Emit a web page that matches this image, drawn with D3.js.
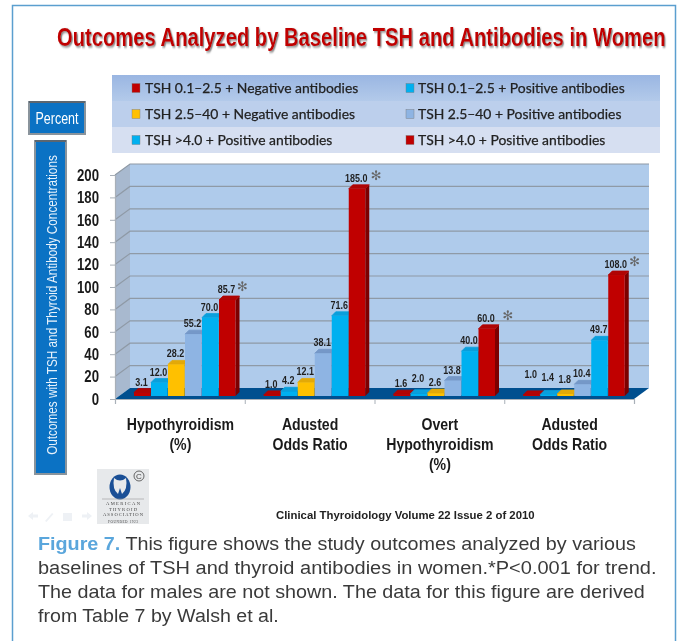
<!DOCTYPE html>
<html>
<head lang="en">
	<meta charset="UTF-8">
	<title>Outcomes by Baseline TSH and Antibodies</title>
	<style>
	html, body { margin: 0; padding: 0; background: #fff; }
	svg { display: block; filter: blur(0.35px); }
	text { font-family: "Liberation Sans", sans-serif; }
	</style>
	<script src="https://cdn.jsdelivr.net/npm/d3@7"></script>
</head>
<body>
<script>
	var categories = [["Hypothyroidism", "(%)"], ["Adusted", "Odds Ratio"], ["Overt", "Hypothyroidism", "(%)"], ["Adusted", "Odds Ratio"]];
	var seriesNames = [
		"TSH 0.1–2.5 + Negative antibodies",
		"TSH 0.1–2.5 + Positive antibodies",
		"TSH 2.5–40 + Negative antibodies",
		"TSH 2.5–40 + Positive antibodies",
		"TSH >4.0 + Positive antibodies",
		"TSH >4.0 + Positive antibodies"
	];
	var neg01 = [3.1, 1.0, 1.6, 1.0];
	var pos01 = [12.0, 4.2, 2.0, 1.4];
	var neg25 = [28.2, 12.1, 2.6, 1.8];
	var pos25 = [55.2, 38.1, 13.8, 10.4];
	var pos40a = [70.0, 71.6, 40.0, 49.7];
	var pos40b = [85.7, 185.0, 60.0, 108.0];
	var seriesValues = [neg01, pos01, neg25, pos25, pos40a, pos40b];
	var yTicks = [0, 20, 40, 60, 80, 100, 120, 140, 160, 180, 200];

	// front, top, side
	var barColors = [
		["#c00000", "#b00404", "#7c0000"],
		["#00b0f0", "#0a9fdc", "#0086b8"],
		["#ffc000", "#e3a908", "#c79500"],
		["#8eb4e3", "#7598c8", "#7090bd"],
		["#00b0f0", "#0a9fdc", "#0086b8"],
		["#c00000", "#b00404", "#7c0000"]
	];

	var width = 677, height = 641;
	var depth = [15, -11]; // floor depth of the 3d box
	var barDepth = 4;

	var svg = d3.select("body").append("svg")
		.attr("width", width)
		.attr("height", height);

	var defs = svg.append("defs");
	var sh = defs.append("filter").attr("id", "shadow").attr("x", "-5%").attr("y", "-20%").attr("width", "110%").attr("height", "150%");
	sh.append("feDropShadow").attr("dx", 1.5).attr("dy", 1.5).attr("stdDeviation", 1).attr("flood-color", "#888");
	var lg = defs.append("linearGradient").attr("id", "row0").attr("x1", 0).attr("x2", 0).attr("y1", 0).attr("y2", 1);
	lg.append("stop").attr("offset", "0%").attr("stop-color", "#9ab6e2");
	lg.append("stop").attr("offset", "100%").attr("stop-color", "#b3caea");

	// no narrow font is installed, so squeeze the text to the width it has in the picture
	function fitText(sel, x, y, w, rotate) {
		var k = w / sel.node().getComputedTextLength();
		sel.attr("transform", "translate(" + x + "," + y + ")" + (rotate ? "rotate(" + rotate + ")" : "") + "scale(" + k + ",1)");
	}

	// frame, open at the bottom
	svg.append("path")
		.attr("d", "M12.5,641V5.5H675.5V641")
		.attr("fill", "none")
		.attr("stroke", "#5b9fcf")
		.attr("stroke-width", 1.5);

	// title
	svg.append("text")
		.attr("font-size", 26)
		.attr("font-weight", "bold")
		.attr("fill", "#c00000")
		.attr("filter", "url(#shadow)")
		.text("Outcomes Analyzed by Baseline TSH and Antibodies in Women")
		.call(fitText, 57, 46, 609);

	// legend
	var legendRows = d3.scaleBand().domain([0, 1, 2]).range([75, 153]);
	var legendFills = ["url(#row0)", "#bccfec", "#d6dff1"];
	svg.selectAll("rect.legrow").data([0, 1, 2]).enter().append("rect")
		.attr("class", "legrow")
		.attr("x", 112).attr("width", 548)
		.attr("y", function(d){ return legendRows(d); })
		.attr("height", legendRows.bandwidth())
		.attr("fill", function(d){ return legendFills[d]; });

	var legend = svg.selectAll("g.leg").data(seriesNames).enter().append("g")
		.attr("class", "leg")
		.attr("transform", function(d, i){
			var col = i % 2, row = Math.floor(i / 2);
			return "translate(" + (col ? 406 : 132) + "," + (legendRows(row) + legendRows.bandwidth() / 2) + ")";
		});
	legend.append("rect")
		.attr("x", 0).attr("y", -4.5).attr("width", 8).attr("height", 9)
		.attr("fill", function(d, i){ return barColors[i][0]; })
		.attr("stroke", "#777").attr("stroke-width", 0.4);
	legend.append("text")
		.attr("x", function(d, i){ return i % 2 ? 12 : 13; })
		.attr("y", 4.5)
		.style("font-family", "Lato, 'Open Sans', sans-serif")
		.attr("font-size", 13.9)
		.attr("fill", "#222")
		.attr("stroke", "#222")
		.attr("stroke-width", 0.25)
		.text(function(d){ return d; });

	// side boxes
	function blueBox(x, y, w, h) {
		svg.append("rect").attr("x", x).attr("y", y).attr("width", w).attr("height", h)
			.attr("fill", "#0b72c4").attr("stroke", "#8a949c").attr("stroke-width", 2);
		svg.append("rect").attr("x", x).attr("y", y - 1).attr("width", w).attr("height", 2).attr("fill", "#5c6670");
	}
	blueBox(29, 102, 56, 32);
	svg.append("text")
		.attr("text-anchor", "middle")
		.attr("font-size", 16).attr("fill", "#fff")
		.text("Percent")
		.call(fitText, 57, 124, 43);
	blueBox(35, 141, 31, 333);
	svg.append("text")
		.attr("text-anchor", "middle")
		.attr("font-size", 14).attr("fill", "#e8f2fb")
		.text("Outcomes with TSH and Thyroid Antibody Concentrations")
		.call(fitText, 57, 305, 300, -90);

	// scales
	var x0 = d3.scaleBand().domain(d3.range(categories.length)).range([115, 634]);
	var x1 = d3.scaleBand().domain(d3.range(seriesValues.length)).range([19, 121]);
	var yFront = d3.scaleLinear().domain([0, 200]).range([399, 175]);
	var yBar = d3.scaleLinear().domain([0, 200]).range([396, 172]);

	// walls
	var plot = svg.append("g");
	plot.append("rect")
		.attr("x", x0.range()[0] + depth[0])
		.attr("y", yFront(200) + depth[1])
		.attr("width", x0.range()[1] - x0.range()[0])
		.attr("height", yFront(0) - yFront(200))
		.attr("fill", "#afcbeb");
	plot.append("path")
		.attr("d", d3.line()([
			[x0.range()[0], yFront(200)],
			[x0.range()[0] + depth[0], yFront(200) + depth[1]],
			[x0.range()[0] + depth[0], yFront(0) + depth[1]],
			[x0.range()[0], yFront(0)]
		]) + "Z")
		.attr("fill", "#a8b9cf");
	// gridlines run along the side wall and across the back
	plot.selectAll("path.grid").data(yTicks.slice(1)).enter().append("path")
		.attr("class", "grid")
		.attr("d", function(d){
			return d3.line()([
				[x0.range()[0], yFront(d)],
				[x0.range()[0] + depth[0], yFront(d) + depth[1]],
				[x0.range()[1] + depth[0], yFront(d) + depth[1]]
			]);
		})
		.attr("fill", "none")
		.attr("stroke", "#8f9aa6")
		.attr("stroke-width", 1.2);
	// floor
	plot.append("path")
		.attr("d", d3.line()([
			[x0.range()[0], yFront(0)],
			[x0.range()[0] + depth[0], yFront(0) + depth[1]],
			[x0.range()[1] + depth[0], yFront(0) + depth[1]],
			[x0.range()[1], yFront(0)]
		]) + "Z")
		.attr("fill", "#004f8f");

	// axes
	var yAxis = d3.axisLeft(yFront).tickValues(yTicks).tickSize(5);
	var yg = plot.append("g").attr("transform", "translate(" + x0.range()[0] + ",0)").call(yAxis);
	yg.select(".domain").attr("stroke", "#a9b0b8").attr("stroke-width", 1.2);
	yg.selectAll(".tick line").attr("stroke", "#a9b0b8");
	yg.selectAll(".tick text")
		.attr("x", 0)
		.attr("transform", "translate(-16,0)scale(0.8,1)")
		.attr("font-size", 16.5)
		.attr("font-weight", "bold")
		.attr("fill", "#1a1a1a");

	var xAxis = d3.axisBottom(d3.scaleLinear().domain([0, categories.length]).range(x0.range()))
		.ticks(categories.length).tickSize(5).tickFormat("");
	var xg = plot.append("g").attr("transform", "translate(0," + yFront(0) + ")").call(xAxis);
	xg.select(".domain").attr("stroke", "#a9b0b8").attr("stroke-width", 1.2);
	xg.selectAll(".tick line").attr("stroke", "#a9b0b8");

	// bars
	var bw = x1.bandwidth();
	var bars = plot.append("g");
	var flat = [];
	seriesValues.forEach(function(vals, s){
		vals.forEach(function(v, c){ flat.push({s: s, c: c, v: v}); });
	});
	var barG = bars.selectAll("g").data(flat).enter().append("g")
		.attr("transform", function(d){ return "translate(" + (x0(d.c) + x1(d.s)) + ",0)"; });
	barG.append("path") // side
		.attr("d", function(d){
			return d3.line()([[bw - 0.5, yBar(d.v)], [bw - 0.5 + barDepth, yBar(d.v) - barDepth], [bw - 0.5 + barDepth, yBar(0) - barDepth], [bw - 0.5, yBar(0)]]) + "Z";
		})
		.attr("fill", function(d){ return barColors[d.s][2]; });
	barG.append("path") // top
		.attr("d", function(d){
			return d3.line()([[0, yBar(d.v)], [barDepth, yBar(d.v) - barDepth], [bw - 0.5 + barDepth, yBar(d.v) - barDepth], [bw - 0.5, yBar(d.v)]]) + "Z";
		})
		.attr("fill", function(d){ return barColors[d.s][1]; })
		.attr("stroke", function(d){ return barColors[d.s][1]; })
		.attr("stroke-width", 0.8)
		.attr("stroke-linejoin", "round");
	barG.append("rect")
		.attr("x", 0).attr("width", bw - 0.5)
		.attr("y", function(d){ return yBar(d.v); })
		.attr("height", function(d){ return yBar(0) - yBar(d.v); })
		.attr("fill", function(d){ return barColors[d.s][0]; });

	// labels on the tiny bars sit higher, as in the original
	var extraLift = {"1-2": 5, "0-3": 10, "1-3": 6, "2-3": 4};
	plot.selectAll("text.val").data(flat).enter().append("text")
		.attr("class", "val")
		.attr("transform", function(d){
			var x = x0(d.c) + x1(d.s) + bw / 2 - 1;
			var y = yBar(d.v) - 7 - (extraLift[d.s + "-" + d.c] || 0);
			return "translate(" + x + "," + y + ")scale(0.78,1)";
		})
		.attr("text-anchor", "middle")
		.attr("font-size", 11.5)
		.attr("font-weight", "bold")
		.attr("fill", "#1f1f1f")
		.text(function(d){ return d.v.toFixed(1); });

	// significance marks beside the tallest bars
	var starGap = [15, 19, 21, 18];
	plot.selectAll("text.star").data(pos40b).enter().append("text")
		.attr("class", "star")
		.attr("x", function(d, i){ return x0(i) + x1(5) + bw / 2 + starGap[i]; })
		.attr("y", function(d){ return yBar(d) - 9; })
		.attr("text-anchor", "middle")
		.style("font-family", "DejaVu Sans")
		.attr("font-size", 13)
		.attr("fill", "#666")
		.text("✻");

	// category labels
	categories.forEach(function(lines, c){
		lines.forEach(function(line, k){
			plot.append("text")
				.attr("transform", "translate(" + (x0(c) + x0.bandwidth() / 2 + 0.5) + "," + (430 + k * 20) + ")scale(0.855,1)")
				.attr("text-anchor", "middle")
				.attr("font-size", 16.5)
				.attr("font-weight", "bold")
				.attr("fill", "#1a1a1a")
				.text(line);
		});
	});

	// faint slide navigation icons
	var nav = svg.append("g").attr("fill", "#eef1f5");
	nav.append("path").attr("d", "M28,516l5,-4v2.5h5v3h-5v2.5z");
	nav.append("path").attr("d", "M45,521l7,-8l1.5,1l-7,8z");
	nav.append("rect").attr("x", 63).attr("y", 513).attr("width", 9).attr("height", 8);
	nav.append("path").attr("d", "M92,516l-5,-4v2.5h-5v3h5v2.5z");

	// society logo
	var logo = svg.append("g").attr("transform", "translate(97,469)");
	logo.append("rect").attr("width", 52).attr("height", 55).attr("fill", "#e7e9eb");
	logo.append("ellipse").attr("cx", 23).attr("cy", 18).attr("rx", 10.5).attr("ry", 12.5).attr("fill", "#1a4f96");
	logo.append("path").attr("d", "M17,9Q23,14 29,9Q31,20 25,25L23,19L21,25Q15,20 17,9Z").attr("fill", "#e7e9eb");
	logo.append("circle").attr("cx", 42).attr("cy", 7).attr("r", 5).attr("fill", "none").attr("stroke", "#444").attr("stroke-width", 0.8);
	logo.append("text").attr("x", 42).attr("y", 10).attr("text-anchor", "middle")
		.attr("font-size", 8).attr("fill", "#444").text("C");
	logo.append("line").attr("x1", 5).attr("x2", 47).attr("y1", 30).attr("y2", 30).attr("stroke", "#999").attr("stroke-width", 0.6);
	var logoLines = ["AMERICAN", "THYROID", "ASSOCIATION", "FOUNDED 1923"];
	var logoWidths = [34, 28, 40, 30];
	logoLines.forEach(function(t, i){
		logo.append("text")
			.attr("x", 26).attr("y", 36 + i * 5.6 + (i == 3 ? 1.5 : 0))
			.attr("text-anchor", "middle")
			.attr("textLength", logoWidths[i])
			.style("font-family", "Liberation Serif")
			.attr("font-size", i == 3 ? 3.4 : 4.6)
			.attr("fill", "#444")
			.text(t);
	});

	// citation
	svg.append("text")
		.attr("font-size", 11.5)
		.attr("font-weight", "bold")
		.attr("fill", "#222")
		.text("Clinical Thyroidology Volume 22 Issue 2 of 2010")
		.call(fitText, 276, 519, 259);

	// caption
	var captionLines = [
		" This figure shows the study outcomes analyzed by various",
		"baselines of TSH and thyroid antibodies in women.*P<0.001 for trend.",
		"The data for males are not shown. The data for this figure are derived",
		"from Table 7 by Walsh et al."
	];
	var captionWidths = [598, 619, 607, 241];
	var cap = svg.selectAll("text.cap").data(captionLines).enter().append("text")
		.attr("class", "cap")
		.style("white-space", "pre")
		.attr("font-size", 19)
		.attr("fill", "#3a3a3a");
	cap.filter(function(d, i){ return i == 0; }).append("tspan")
		.attr("font-weight", "bold").attr("fill", "#5aa6dc").text("Figure 7.");
	cap.append("tspan").text(function(d){ return d; });
	cap.each(function(d, i){
		d3.select(this).call(fitText, 38, 550 + i * 24, captionWidths[i]);
	});
</script>
</body>
</html>
